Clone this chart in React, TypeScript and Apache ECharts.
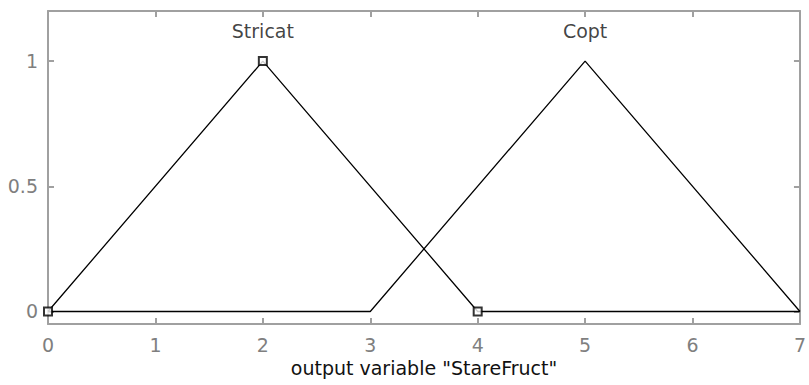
import React, { useEffect, useRef } from "react";
import * as echarts from "echarts";

// Membership functions of the output variable (triangular, x vs. degree)
const stricatX = [0, 2, 4, 7];
const stricatY = [0, 1, 0, 0];
const coptX = [0, 3, 5, 7];
const coptY = [0, 0, 1, 0];

// Vertices of the highlighted membership function
const vertexX = [0, 2, 4];
const vertexY = [0, 1, 0];

// Membership function names and where they are written
const mfNames = ["Stricat", "Copt"];
const mfLabelX = [2, 5];
const mfLabelY = [1.12, 1.12];

// Axis ranges and ticks
const xMin = 0;
const xMax = 7;
const yMin = -0.05;
const yMax = 1.2;
const yTicks = [0, 0.5, 1];
const axisTitle = 'output variable "StareFruct"';

const FRAME = "#a0a0a0";
const TICK_TEXT = "#7f7f7f";
const FONT = "DejaVu Sans";

const pairs = (xs: number[], ys: number[]) => xs.map((x, i) => [x, ys[i]]);

export default function App() {
  const ref = useRef<HTMLDivElement>(null);

  useEffect(() => {
    if (!ref.current) return;
    const chart = echarts.init(ref.current, undefined, { renderer: "svg" });

    const frameLine = { show: true, onZero: false, lineStyle: { color: FRAME, width: 2 } };
    const innerTick = { show: true, inside: true, length: 6, lineStyle: { color: FRAME, width: 2 } };

    chart.setOption({
      animation: false,
      backgroundColor: "#ffffff",
      grid: { left: 48, right: 3, top: 11, bottom: 61, containLabel: false },
      xAxis: [
        {
          type: "value",
          position: "bottom",
          min: xMin,
          max: xMax,
          interval: 1,
          axisLine: frameLine,
          axisTick: innerTick,
          splitLine: { show: false },
          axisLabel: { color: TICK_TEXT, fontFamily: FONT, fontSize: 19, margin: 11 },
          name: axisTitle,
          nameLocation: "middle",
          nameGap: 33,
          nameTextStyle: { color: "#111111", fontFamily: FONT, fontSize: 19, verticalAlign: "top" },
        },
        {
          type: "value",
          position: "top",
          min: xMin,
          max: xMax,
          interval: 1,
          axisLine: frameLine,
          axisTick: innerTick,
          splitLine: { show: false },
          axisLabel: { show: false },
        },
      ],
      yAxis: [
        {
          type: "value",
          position: "left",
          min: yMin,
          max: yMax,
          axisLine: frameLine,
          axisTick: { ...innerTick, customValues: yTicks },
          splitLine: { show: false },
          axisLabel: {
            color: TICK_TEXT,
            fontFamily: FONT,
            fontSize: 19,
            margin: 10,
            customValues: yTicks,
            formatter: (v: number) => String(v),
          },
        },
        {
          type: "value",
          position: "right",
          min: yMin,
          max: yMax,
          axisLine: frameLine,
          axisTick: { ...innerTick, customValues: yTicks },
          splitLine: { show: false },
          axisLabel: { show: false },
        },
      ],
      series: [
        {
          name: mfNames[0],
          type: "line",
          data: pairs(stricatX, stricatY),
          showSymbol: false,
          lineStyle: { color: "#000000", width: 1.3 },
          z: 3,
        },
        {
          name: mfNames[1],
          type: "line",
          data: pairs(coptX, coptY),
          showSymbol: false,
          lineStyle: { color: "#000000", width: 1.3 },
          z: 3,
        },
        {
          type: "scatter",
          data: pairs(vertexX, vertexY),
          symbol: "emptyRect",
          symbolSize: 8,
          itemStyle: { color: "#000000", borderColor: "#000000", borderWidth: 1.5 },
          z: 4,
        },
        {
          type: "scatter",
          data: mfNames.map((n, i) => ({ value: [mfLabelX[i], mfLabelY[i]], name: n })),
          symbolSize: 0,
          label: {
            show: true,
            position: "inside",
            formatter: (p: any) => p.name,
            color: "#111111",
            fontFamily: FONT,
            fontSize: 19,
          },
          z: 5,
        },
      ],
    });

    return () => chart.dispose();
  }, []);

  return (
    <div
      ref={ref}
      style={{ position: "fixed", left: 0, top: 0, width: 809, height: 385, background: "#fff" }}
    />
  );
}
